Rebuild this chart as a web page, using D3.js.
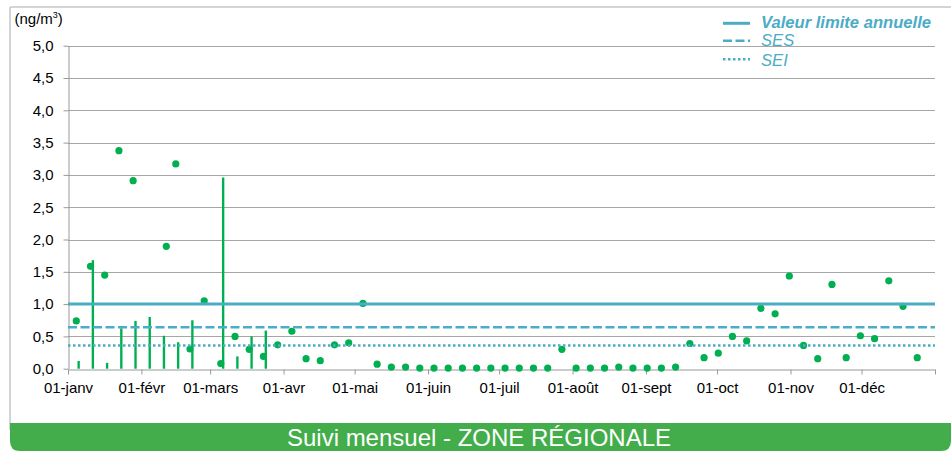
<!DOCTYPE html>
<html><head><meta charset="utf-8">
<script src="https://cdn.jsdelivr.net/npm/d3@7"></script>
<style>
body{margin:0;background:#fff;}
svg{display:block;font-family:"Liberation Sans",Arial,sans-serif;}
</style>
</head><body>
<svg id="chart" width="951" height="451"></svg>
<script>
// ---- data ----
const monthStarts = ["2020-01-01","2020-02-01","2020-03-01","2020-04-01","2020-05-01","2020-06-01",
                     "2020-07-01","2020-08-01","2020-09-01","2020-10-01","2020-11-01","2020-12-01"];
const monthLabels = ["01-janv","01-févr","01-mars","01-avr","01-mai","01-juin",
                     "01-juil","01-août","01-sept","01-oct","01-nov","01-déc"];
const yearEnd = "2021-01-01";
const yTickValues = [0,0.5,1,1.5,2,2.5,3,3.5,4,4.5,5];

const barDates  = ["2020-01-05","2020-01-11","2020-01-17","2020-01-23","2020-01-29","2020-02-04",
                   "2020-02-10","2020-02-16","2020-02-22","2020-03-06","2020-03-12","2020-03-18","2020-03-24"];
const barValues = [0.12,1.68,0.09,0.625,0.74,0.80,0.51,0.41,0.75,2.96,0.19,0.50,0.59];

const dotDates  = ["2020-01-04","2020-01-10","2020-01-16","2020-01-22","2020-01-28","2020-02-11",
                   "2020-02-15","2020-02-21","2020-02-27","2020-03-05","2020-03-11","2020-03-17",
                   "2020-03-23","2020-03-29","2020-04-04","2020-04-10","2020-04-16","2020-04-22",
                   "2020-04-28","2020-05-04","2020-05-10","2020-05-16","2020-05-22","2020-05-28",
                   "2020-06-03","2020-06-09","2020-06-15","2020-06-21","2020-06-27","2020-07-03",
                   "2020-07-09","2020-07-15","2020-07-21","2020-07-27","2020-08-02","2020-08-08",
                   "2020-08-14","2020-08-20","2020-08-26","2020-09-01","2020-09-07","2020-09-13",
                   "2020-09-19","2020-09-25","2020-10-01","2020-10-07","2020-10-13","2020-10-19",
                   "2020-10-25","2020-10-31","2020-11-06","2020-11-12","2020-11-18","2020-11-24",
                   "2020-11-30","2020-12-06","2020-12-12","2020-12-18","2020-12-24"];
const dotValues = [0.74,1.585,1.45,3.375,2.91,1.895,
                   3.17,0.305,1.05,0.08,0.50,0.30,
                   0.19,0.37,0.58,0.155,0.125,0.37,
                   0.40,1.01,0.07,0.025,0.025,0.01,
                   0.01,0.01,0.01,0.01,0.01,0.01,
                   0.01,0.01,0.01,0.30,0.01,0.01,
                   0.01,0.025,0.01,0.01,0.01,0.025,
                   0.39,0.17,0.24,0.50,0.43,0.935,
                   0.85,1.435,0.36,0.155,1.305,0.17,
                   0.51,0.465,1.36,0.965,0.17];

const thresholdNames  = ["Valeur limite annuelle","SES","SEI"];
const thresholdValues = [1.0, 0.64, 0.36];
const unitLabel = "(ng/m";
const unitSup = "3";
const bandTitle = "Suivi mensuel - ZONE RÉGIONALE";

// ---- drawing ----
const svg = d3.select("#chart");
const parse = d3.utcParse("%Y-%m-%d");
const green = "#00b050", blue = "#4bacc6";
const plotL = 68, plotR = 935, plotT = 45.7, plotB = 368.7;

const x = d3.scaleUtc().domain([parse(monthStarts[0]), parse(yearEnd)]).range([plotL, plotR]);
const y = d3.scaleLinear().domain([0, 5]).range([plotB, plotT]);
const comma = d3.formatLocale({decimal: ",", thousands: " ", grouping: [3], currency: ["", "€"]}).format(".1f");

// frame
svg.append("line").attr("x1",10).attr("x2",951).attr("y1",7).attr("y2",7)
  .attr("stroke","#c6c6c6").attr("stroke-width",1.5);
svg.append("line").attr("x1",10).attr("x2",10).attr("y1",7).attr("y2",430)
  .attr("stroke","#c6c6c6").attr("stroke-width",1.5);

// green band
const bx0 = 10, bx1 = 951, by0 = 423, by1 = 451, rr = 10;
svg.append("path")
  .attr("d", `M${bx0},${by0} H${bx1} V${by1 - rr} Q${bx1},${by1} ${bx1 - rr},${by1} H${bx0 + rr} Q${bx0},${by1} ${bx0},${by1 - rr} Z`)
  .attr("fill", "#42ad4a");
svg.append("text").attr("x", 479).attr("y", 446).attr("text-anchor","middle")
  .attr("fill","#fff").attr("font-size", 24).text(bandTitle);

// gridlines
svg.append("g").selectAll("line").data(yTickValues.slice(1)).join("line")
  .attr("x1", plotL).attr("x2", plotR)
  .attr("y1", d => Math.round(y(d)) + 0.5).attr("y2", d => Math.round(y(d)) + 0.5)
  .attr("stroke", "#a6a6a6").attr("stroke-width", 1);

// y axis
const yAxis = svg.append("g").attr("transform", `translate(${plotL + 0.5},0)`)
  .call(d3.axisLeft(y).tickValues(yTickValues).tickFormat(comma).tickSize(5).tickSizeOuter(0).tickPadding(10));
yAxis.selectAll("path,line").attr("stroke", "#999");
yAxis.selectAll("text").attr("font-size", 15).attr("fill", "#000").attr("font-family", "Liberation Sans, Arial, sans-serif");

// x axis
const xTicks = monthStarts.concat([yearEnd]).map(parse);
const labelFor = new Map(monthStarts.map((d, i) => [parse(d).getTime(), monthLabels[i]]));
const xAxis = svg.append("g").attr("transform", `translate(0,${Math.round(plotB) + 0.5})`)
  .call(d3.axisBottom(x).tickValues(xTicks).tickFormat(d => labelFor.get(d.getTime()) || "")
    .tickSize(5).tickSizeOuter(0).tickPadding(8));
xAxis.selectAll("path,line").attr("stroke", "#999");
xAxis.selectAll("text").attr("font-size", 15).attr("fill", "#000").attr("font-family", "Liberation Sans, Arial, sans-serif");

// bars (one day wide)
svg.append("g").selectAll("rect").data(barDates.map((d, i) => ({d: parse(d), v: barValues[i]}))).join("rect")
  .attr("x", d => x(d.d)).attr("width", d => x(d3.utcDay.offset(d.d, 1)) - x(d.d))
  .attr("y", d => y(d.v)).attr("height", d => y(0) - y(d.v))
  .attr("fill", green);

// dots
svg.append("g").selectAll("circle").data(dotDates.map((d, i) => ({d: parse(d), v: dotValues[i]}))).join("circle")
  .attr("cx", d => x(d3.utcHour.offset(d.d, 12))).attr("cy", d => y(d.v)).attr("r", 3.6)
  .attr("fill", green);

// threshold lines
const styles = [
  {w: 3, dash: null},
  {w: 2.5, dash: "9,3.5"},
  {w: 2.5, dash: "2.5,2.5"}
];
svg.append("g").selectAll("line").data(thresholdValues).join("line")
  .attr("x1", plotL).attr("x2", plotR)
  .attr("y1", d => y(d)).attr("y2", d => y(d))
  .attr("stroke", blue).attr("stroke-width", (d, i) => styles[i].w)
  .attr("stroke-dasharray", (d, i) => styles[i].dash);

// legend
const legY = [23.3, 40.7, 59.3];
const legBase = [28, 45.7, 65.7];
const leg = svg.append("g");
thresholdNames.forEach((name, i) => {
  leg.append("line").attr("x1", 723).attr("x2", 750).attr("y1", legY[i]).attr("y2", legY[i])
    .attr("stroke", blue).attr("stroke-width", styles[i].w).attr("stroke-dasharray", styles[i].dash);
  leg.append("text").attr("x", 761).attr("y", legBase[i]).attr("fill", blue)
    .attr("font-size", 16.6).attr("font-style", "italic").attr("font-weight", i === 0 ? "bold" : "normal")
    .text(name);
});

// unit label
const ut = svg.append("text").attr("x", 14.5).attr("y", 24).attr("font-size", 15).attr("fill", "#000");
ut.append("tspan").text(unitLabel);
ut.append("tspan").attr("font-size", 9).attr("dy", -6).text(unitSup);
ut.append("tspan").attr("dy", 6).text(")");
</script>
</body></html>
